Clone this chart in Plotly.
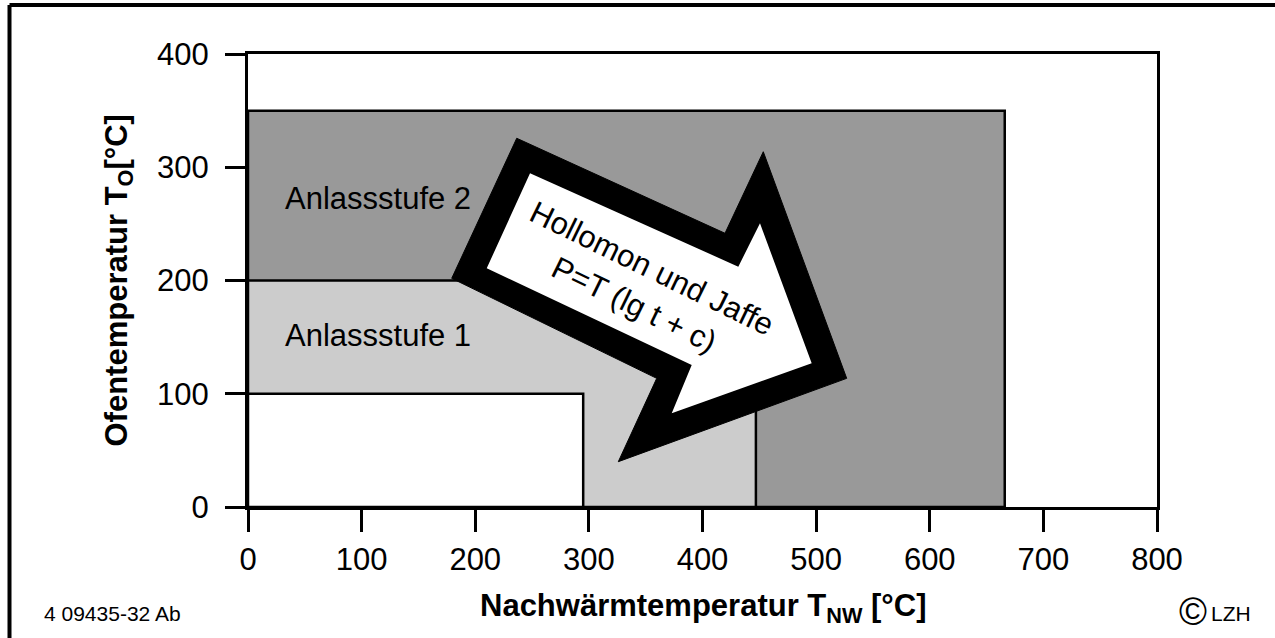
import plotly.graph_objects as go

# ---- data ----
x_ticks = [0, 100, 200, 300, 400, 500, 600, 700, 800]
y_ticks = [0, 100, 200, 300, 400]

# regions: (x_max Nachwärmtemperatur, y_max Ofentemperatur)
stage2_x, stage2_y = 666, 350   # Anlassstufe 2
stage1_x, stage1_y = 447, 200   # Anlassstufe 1
base_x, base_y = 295, 100       # unbehandelt

region_labels = ["Anlassstufe 2", "Anlassstufe 1"]
region_label_x = [31, 31]
region_label_y = [272, 151]

# arrow outline (data coords)
arrow_outer_x = [236.5, 419.8, 453.5, 526.9, 325.9, 359.7, 179.3]
arrow_outer_y = [325.6, 241.7, 313.7, 113.6, 40.0, 113.6, 201.9]
arrow_inner_x = [248.2, 431.5, 450.6, 496.1, 372.9, 390.5, 210.1]
arrow_inner_y = [294.7, 212.2, 250.5, 126.9, 82.7, 125.4, 210.8]
arrow_text = "Hollomon und Jaffe<br>P=T (lg t + c)"
arrow_text_pos = (348, 195)
arrow_angle = 26

FONT = "Liberation Sans, Arial, Helvetica, sans-serif"

# ---- layout geometry (pixels) ----
W, H = 1275, 638
L, R, T, B = 248, 1157, 54, 507


def px(xp):
    return (xp - L) / (R - L)


def py(yp):
    return (B - yp) / (B - T)


def poly_path(xs, ys):
    pts = [f"{x},{y}" for x, y in zip(xs, ys)]
    return "M " + " L ".join(pts) + " Z"


fig = go.Figure()
fig.add_trace(go.Scatter(x=[0, 800], y=[0, 400], mode="markers",
                         marker=dict(opacity=0, size=1), hoverinfo="skip", showlegend=False))

shapes = []
shapes.append(dict(type="rect", xref="x", yref="y", x0=0, y0=0, x1=stage2_x, y1=stage2_y,
                   fillcolor="#999999", line=dict(color="black", width=2.5), layer="below"))
shapes.append(dict(type="rect", xref="x", yref="y", x0=0, y0=0, x1=stage1_x, y1=stage1_y,
                   fillcolor="#cccccc", line=dict(color="black", width=2.5), layer="below"))
shapes.append(dict(type="rect", xref="x", yref="y", x0=0, y0=0, x1=base_x, y1=base_y,
                   fillcolor="#ffffff", line=dict(color="black", width=2.5), layer="below"))
shapes.append(dict(type="path", xref="x", yref="y", path=poly_path(arrow_outer_x, arrow_outer_y),
                   fillcolor="black", line=dict(color="black", width=1), layer="below"))
shapes.append(dict(type="path", xref="x", yref="y", path=poly_path(arrow_inner_x, arrow_inner_y),
                   fillcolor="white", line=dict(color="white", width=0), layer="below"))
# outer frame of the figure (only top and left visible)
shapes.append(dict(type="line", xref="paper", yref="paper", x0=px(9.5), x1=px(1300),
                   y0=py(5), y1=py(5), line=dict(color="black", width=4)))
shapes.append(dict(type="line", xref="paper", yref="paper", x0=px(9.5), x1=px(9.5),
                   y0=py(5), y1=py(660), line=dict(color="black", width=4)))

annotations = []
for txt, lx, ly in zip(region_labels, region_label_x, region_label_y):
    annotations.append(dict(text=txt, x=lx, y=ly, xref="x", yref="y", showarrow=False,
                            xanchor="left", yanchor="middle",
                            font=dict(family=FONT, size=31, color="black")))
annotations.append(dict(text=arrow_text, x=arrow_text_pos[0], y=arrow_text_pos[1], xref="x", yref="y",
                        showarrow=False, textangle=arrow_angle, align="center",
                        font=dict(family=FONT, size=31, color="black")))
# axis titles
annotations.append(dict(text="<b>Nachwärmtemperatur T<sub>NW</sub> [°C]</b>", x=0.5, y=py(608),
                        xref="paper", yref="paper", showarrow=False, xanchor="center", yanchor="middle",
                        font=dict(family=FONT, size=31, color="black")))
annotations.append(dict(text="<b>Ofentemperatur T<sub>O</sub>[°C]</b>", x=px(118), y=0.5,
                        xref="paper", yref="paper", showarrow=False, xanchor="center", yanchor="middle",
                        textangle=-90, font=dict(family=FONT, size=31, color="black")))
# footer
annotations.append(dict(text="4 09435-32 Ab", x=px(42), y=py(613), xref="paper", yref="paper",
                        showarrow=False, xanchor="left", yanchor="middle",
                        font=dict(family=FONT, size=21, color="black")))
annotations.append(dict(text="©", x=px(1193), y=py(612), xref="paper", yref="paper",
                        showarrow=False, xanchor="center", yanchor="middle",
                        font=dict(family=FONT, size=38, color="black")))
annotations.append(dict(text="LZH", x=px(1209), y=py(613), xref="paper", yref="paper",
                        showarrow=False, xanchor="left", yanchor="middle",
                        font=dict(family=FONT, size=21, color="black")))

axis_common = dict(showline=True, linecolor="black", linewidth=3, mirror=True,
                   ticks="outside", tickwidth=3, tickcolor="black",
                   showgrid=False, zeroline=False,
                   tickfont=dict(family=FONT, size=31, color="black"))

fig.update_layout(
    width=W, height=H,
    margin=dict(l=L, r=W - R, t=T, b=H - B, pad=0),
    paper_bgcolor="white", plot_bgcolor="white",
    xaxis=dict(range=[0, 800], tickvals=x_ticks, ticklen=22, ticklabelstandoff=1, **axis_common),
    yaxis=dict(range=[0, 400], tickvals=y_ticks, ticklen=20, ticklabelstandoff=10, **axis_common),
    shapes=shapes, annotations=annotations, showlegend=False,
)

fig.write_html("out.html", config={"displayModeBar": False},
               post_script="document.body.style.margin='0';document.body.style.overflow='hidden';")
